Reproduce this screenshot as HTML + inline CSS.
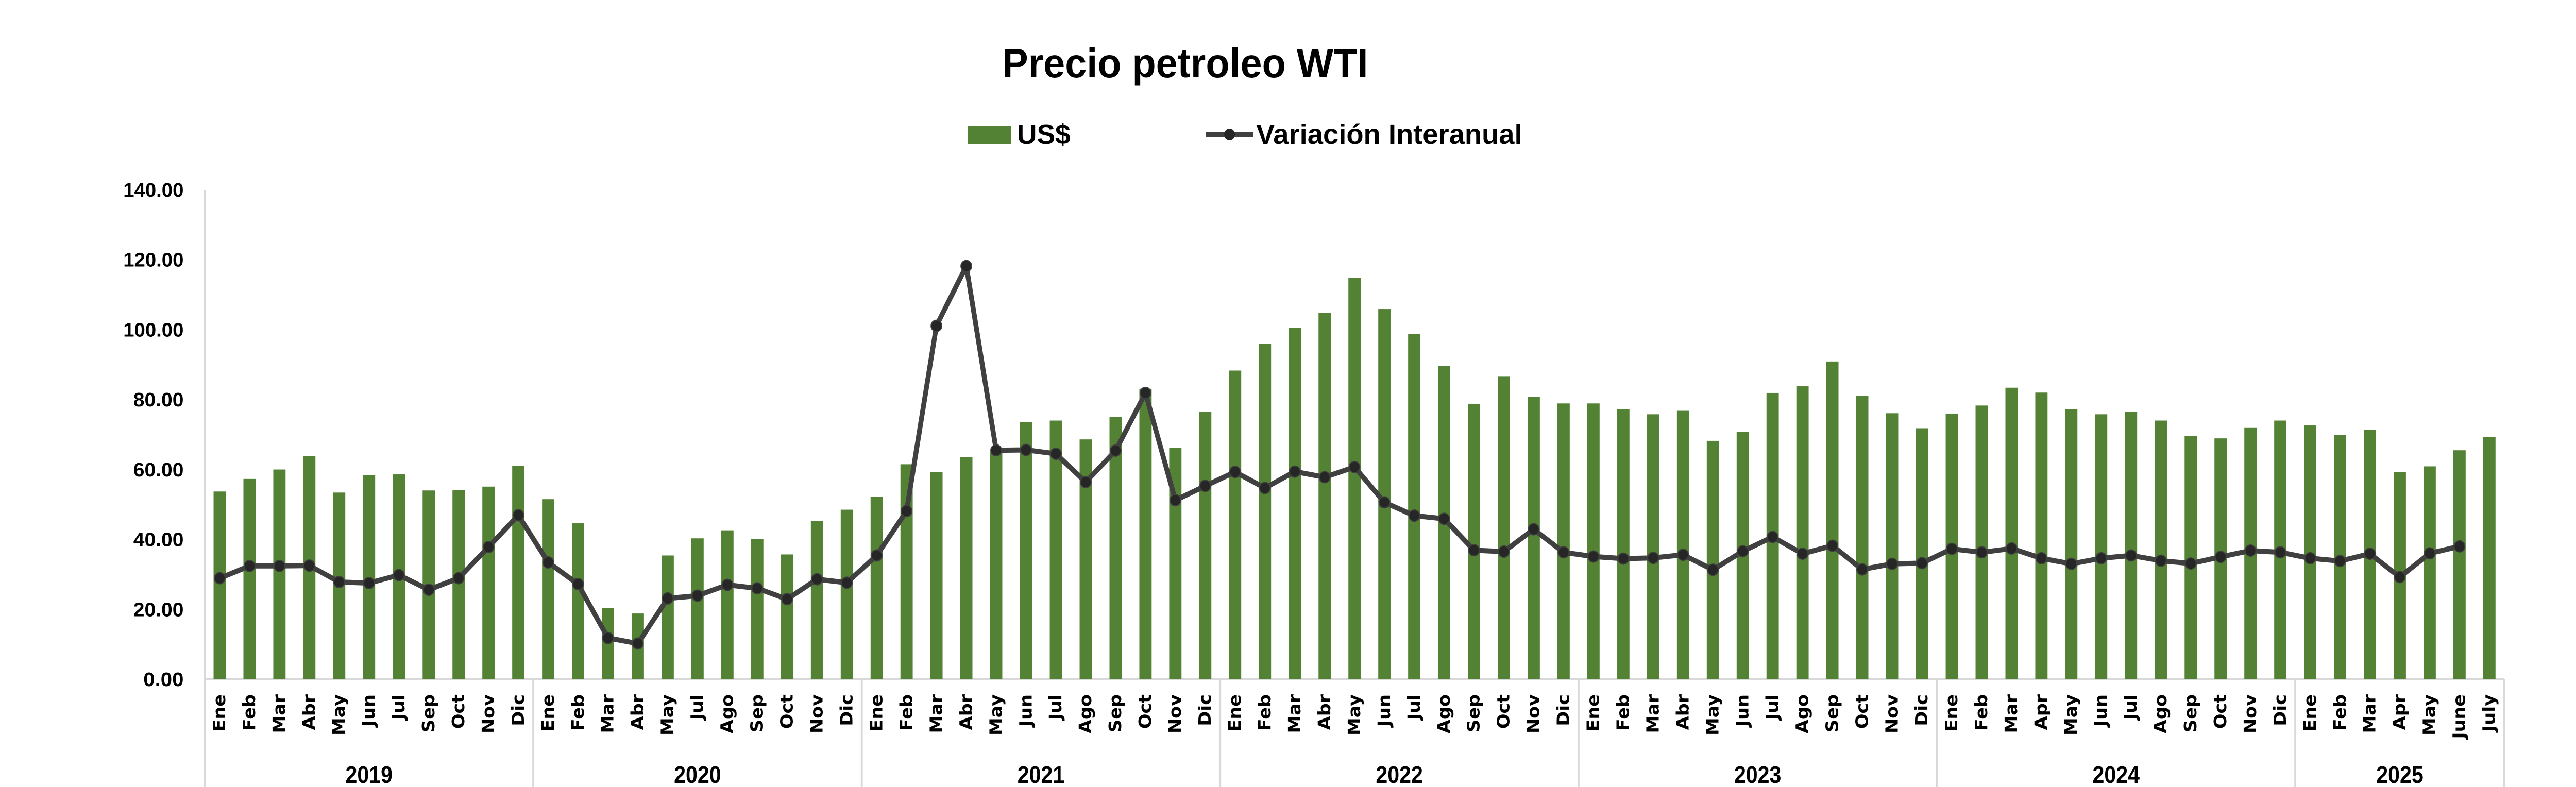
<!DOCTYPE html>
<html><head><meta charset="utf-8"><style>
html,body{margin:0;padding:0;background:#fff;overflow:hidden;width:100%;height:100%;}
svg{display:block;width:100vw;height:100vh;}
text{font-family:"Liberation Sans",sans-serif;font-weight:bold;fill:#000;}
</style></head><body>
<svg id="chart" viewBox="0 0 5246 1528" preserveAspectRatio="none" xmlns="http://www.w3.org/2000/svg">
<text x="2041" y="150" font-size="80" textLength="745" lengthAdjust="spacingAndGlyphs">Precio petroleo WTI</text>
<g>
<rect x="1971" y="244" width="88" height="36" fill="#548235"/>
<text x="2071" y="279" font-size="54" textLength="109" lengthAdjust="spacingAndGlyphs">US$</text>
<line x1="2456" y1="261" x2="2552" y2="261" stroke="#404040" stroke-width="10"/>
<circle cx="2504" cy="261" r="11" fill="#262626"/>
<text x="2558" y="279" font-size="54" textLength="542" lengthAdjust="spacingAndGlyphs">Variación Interanual</text>
</g>
<g id="axes"></g>
<g id="bars"></g>
<g id="line"></g>
</svg>
<script>
const months = ["Ene","Feb","Mar","Abr","May","Jun","Jul","Sep","Oct","Nov","Dic",
"Ene","Feb","Mar","Abr","May","Jul","Ago","Sep","Oct","Nov","Dic",
"Ene","Feb","Mar","Abr","May","Jun","Jul","Ago","Sep","Oct","Nov","Dic",
"Ene","Feb","Mar","Abr","May","Jun","Jul","Ago","Sep","Oct","Nov","Dic",
"Ene","Feb","Mar","Abr","May","Jun","Jul","Ago","Sep","Oct","Nov","Dic",
"Ene","Feb","Mar","Apr","May","Jun","Jul","Ago","Sep","Oct","Nov","Dic",
"Ene","Feb","Mar","Apr","May","June","July"];
const years = ["2019","2020","2021","2022","2023","2024","2025"];
const yearCounts = [11,11,12,12,12,12,7];
const usd = [53.6,57.2,59.9,63.8,53.3,58.3,58.5,53.9,54.0,55.0,60.9,
51.4,44.5,20.3,18.7,35.3,40.2,42.5,40.0,35.6,45.2,48.4,
52.1,61.4,59.1,63.5,65.0,73.5,73.9,68.5,75.0,83.0,66.1,76.4,
88.2,95.9,100.4,104.7,114.7,105.8,98.6,89.6,78.7,86.6,80.7,78.8,
78.8,77.1,75.7,76.7,68.1,70.7,81.8,83.7,90.8,81.0,76.0,71.7,
75.9,78.2,83.3,81.9,77.1,75.7,76.4,73.9,69.5,68.8,71.8,73.9,
72.5,69.8,71.2,59.2,60.8,65.4,69.2];
const variation = [28.8,32.3,32.3,32.4,27.7,27.4,29.7,25.5,28.8,37.7,46.8,
33.3,27.1,11.7,10.1,23.0,23.8,26.9,25.9,22.8,28.5,27.5,
35.3,48.0,101.0,118.1,65.4,65.5,64.4,56.3,65.3,81.8,51.1,55.2,
59.2,54.6,59.3,57.7,60.6,50.5,46.7,45.8,36.8,36.4,42.8,36.2,
35.0,34.4,34.6,35.5,31.2,36.5,40.6,35.8,38.1,31.3,32.9,33.1,
37.2,36.2,37.3,34.5,32.9,34.5,35.3,33.8,33.0,34.9,36.7,36.2,
34.5,33.7,35.8,29.1,35.9,37.9,null];
const yTicks = [0,20,40,60,80,100,120,140];

const NS = "http://www.w3.org/2000/svg";
const X0 = 417, X1 = 5100, Y0 = 1318, YTOP = 368, YMAX = 140;
const slot = (X1 - X0) / months.length;
function xAt(i){ return X0 + slot * (i + 0.5); }
function yAt(v){ return Y0 - (v / YMAX) * (Y0 - YTOP); }
function mk(tag, attrs, parent){ const e = document.createElementNS(NS, tag); for (const k in attrs) e.setAttribute(k, attrs[k]); parent.appendChild(e); return e; }

const axes = document.getElementById('axes');
const bars = document.getElementById('bars');
const lineG = document.getElementById('line');

yTicks.forEach(t => {
  const s = t.toFixed(2);
  const tx = mk('text', {x: 374, y: yAt(t) + 14, 'font-size': 38, 'text-anchor': 'end', textLength: s.length * 20.5, lengthAdjust: 'spacingAndGlyphs'}, axes);
  
  
  tx.textContent = s;
});

const base = mk('line', {x1: X0, y1: Y0, x2: X1, y2: Y0, stroke: '#d9d9d9', 'stroke-width': 4}, axes);


const yl = mk('line', {x1: X0, y1: YTOP, x2: X0, y2: 1528, stroke: '#d9d9d9', 'stroke-width': 4}, axes);



let start = 0;
yearCounts.forEach((c, yi) => {
  const xe = X0 + slot * (start + c);
  const sep = mk('line', {x1: xe, y1: Y0, x2: xe, y2: 1528, stroke: '#d9d9d9', 'stroke-width': 4}, axes);
  
  
  const cx = X0 + slot * (start + c / 2);
  const yt = mk('text', {x: cx, y: 1520, 'font-size': 46, 'text-anchor': 'middle', textLength: 96, lengthAdjust: 'spacingAndGlyphs'}, axes);
  
  
  yt.textContent = years[yi];
  start += c;
});

months.forEach((m, i) => {
  const x = xAt(i);
  const t = mk('text', {x: 0, y: 0, 'font-size': 35, 'text-anchor': 'end', 'dominant-baseline': 'central', transform: `translate(${x},1348) rotate(-90)`, style: 'font-family:"DejaVu Sans",sans-serif'}, axes);
  
  
  t.textContent = m;
});

usd.forEach((v, i) => {
  const r = mk('rect', {x: xAt(i) - 12.5, y: yAt(v), width: 25, height: Y0 - yAt(v), fill: '#548235'}, bars);
  
  
});

let d = '';
variation.forEach((v, i) => { if (v === null) return; d += (d ? 'L' : 'M') + xAt(i).toFixed(1) + ',' + yAt(v).toFixed(1); });
const path = mk('path', {d: d, fill: 'none', stroke: '#404040', 'stroke-width': 10, 'stroke-linejoin': 'round'}, lineG);


variation.forEach((v, i) => {
  if (v === null) return;
  const c = mk('circle', {cx: xAt(i), cy: yAt(v), r: 11, fill: '#262626', stroke: '#404040', 'stroke-width': 2}, lineG);
  
  
});
</script>
</body></html>
